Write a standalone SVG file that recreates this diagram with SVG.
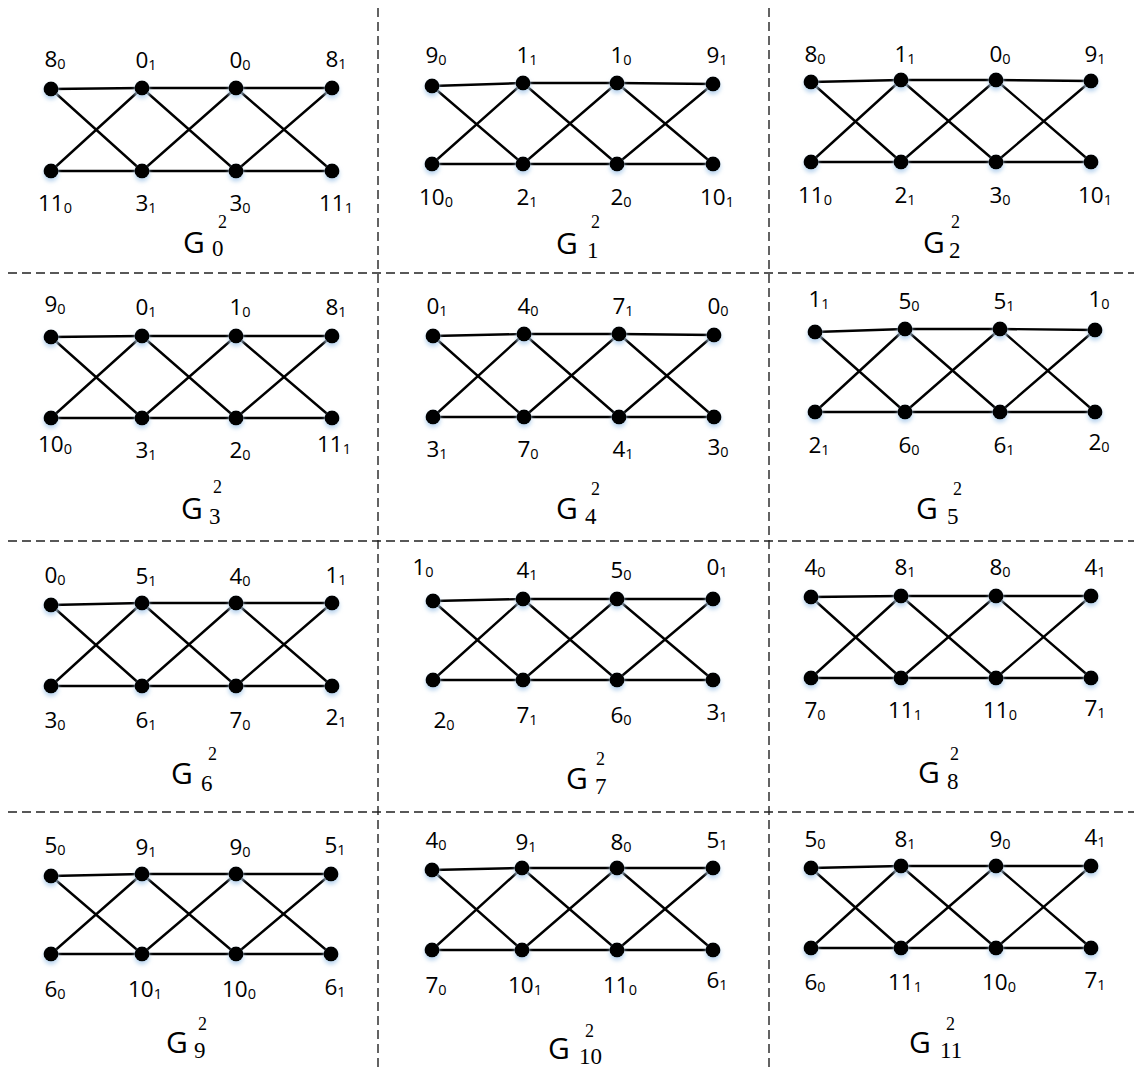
<svg xmlns="http://www.w3.org/2000/svg" width="1138" height="1071" viewBox="0 0 1138 1071">
<style>
.bg{fill:#fff}
.grid line{stroke:#222;stroke-width:1.4;stroke-dasharray:9 5}
.edges line{stroke:#000;stroke-width:2.4;stroke-linecap:round}
.node circle{fill:#000;filter:url(#glow)}
.node text{font-family:"Open Sans","DejaVu Sans",sans-serif;font-size:22.5px;text-anchor:middle;fill:#000}
.node text tspan{font-size:14.5px}
.G{font-family:"Open Sans","DejaVu Sans",sans-serif;font-size:30px;fill:#000}
.sup{font-family:"Liberation Serif",serif;font-size:18px;fill:#000}
.sub{font-family:"Liberation Serif",serif;font-size:23px;fill:#000}
</style>
<defs>
<filter id="glow" x="-60%" y="-60%" width="220%" height="260%">
<feFlood flood-color="#b9d4ee"/>
<feComposite in2="SourceAlpha" operator="in"/>
<feGaussianBlur stdDeviation="2.2"/>
<feOffset dy="3"/>
<feMerge><feMergeNode/><feMergeNode in="SourceGraphic"/></feMerge>
</filter>
</defs>
<rect class="bg" x="0" y="0" width="1138" height="1071"/>
<g class="grid" id="grid">
<line x1="378" y1="8" x2="378" y2="1071"/>
<line x1="769" y1="8" x2="769" y2="1071"/>
<line x1="8" y1="273" x2="1134" y2="273"/>
<line x1="8" y1="541" x2="1134" y2="541"/>
<line x1="8" y1="812" x2="1134" y2="812"/>
</g>
<g class="edges" id="connectors">
<!-- P0 -->
<line x1="51" y1="89" x2="142" y2="88"/><line x1="142" y1="88" x2="236" y2="88"/><line x1="236" y1="88" x2="332" y2="88"/>
<line x1="51" y1="171" x2="142" y2="171"/><line x1="142" y1="171" x2="236" y2="171"/><line x1="236" y1="171" x2="332" y2="171"/>
<line x1="51" y1="89" x2="142" y2="171"/><line x1="51" y1="171" x2="142" y2="88"/><line x1="142" y1="88" x2="236" y2="171"/><line x1="142" y1="171" x2="236" y2="88"/><line x1="236" y1="88" x2="332" y2="171"/><line x1="236" y1="171" x2="332" y2="88"/>
<!-- P1 -->
<line x1="432" y1="86" x2="523" y2="83"/><line x1="523" y1="83" x2="617" y2="83"/><line x1="617" y1="83" x2="713" y2="84"/>
<line x1="432" y1="164" x2="523" y2="164"/><line x1="523" y1="164" x2="617" y2="164"/><line x1="617" y1="164" x2="713" y2="164"/>
<line x1="432" y1="86" x2="523" y2="164"/><line x1="432" y1="164" x2="523" y2="83"/><line x1="523" y1="83" x2="617" y2="164"/><line x1="523" y1="164" x2="617" y2="83"/><line x1="617" y1="83" x2="713" y2="164"/><line x1="617" y1="164" x2="713" y2="84"/>
<!-- P2 -->
<line x1="811" y1="82" x2="901" y2="80"/><line x1="901" y1="80" x2="996" y2="80"/><line x1="996" y1="80" x2="1091" y2="81"/>
<line x1="811" y1="162" x2="901" y2="162"/><line x1="901" y1="162" x2="996" y2="162"/><line x1="996" y1="162" x2="1091" y2="162"/>
<line x1="811" y1="82" x2="901" y2="162"/><line x1="811" y1="162" x2="901" y2="80"/><line x1="901" y1="80" x2="996" y2="162"/><line x1="901" y1="162" x2="996" y2="80"/><line x1="996" y1="80" x2="1091" y2="162"/><line x1="996" y1="162" x2="1091" y2="81"/>
<!-- P3 -->
<line x1="51" y1="337" x2="142" y2="336"/><line x1="142" y1="336" x2="236" y2="336"/><line x1="236" y1="336" x2="332" y2="336"/>
<line x1="51" y1="418" x2="142" y2="418"/><line x1="142" y1="418" x2="236" y2="418"/><line x1="236" y1="418" x2="332" y2="418"/>
<line x1="51" y1="337" x2="142" y2="418"/><line x1="51" y1="418" x2="142" y2="336"/><line x1="142" y1="336" x2="236" y2="418"/><line x1="142" y1="418" x2="236" y2="336"/><line x1="236" y1="336" x2="332" y2="418"/><line x1="236" y1="418" x2="332" y2="336"/>
<!-- P4 -->
<line x1="433" y1="336" x2="524" y2="334"/><line x1="524" y1="334" x2="619" y2="334"/><line x1="619" y1="334" x2="714" y2="335"/>
<line x1="433" y1="417" x2="524" y2="417"/><line x1="524" y1="417" x2="619" y2="417"/><line x1="619" y1="417" x2="714" y2="417"/>
<line x1="433" y1="336" x2="524" y2="417"/><line x1="433" y1="417" x2="524" y2="334"/><line x1="524" y1="334" x2="619" y2="417"/><line x1="524" y1="417" x2="619" y2="334"/><line x1="619" y1="334" x2="714" y2="417"/><line x1="619" y1="417" x2="714" y2="335"/>
<!-- P5 -->
<line x1="815" y1="332" x2="905" y2="329"/><line x1="905" y1="329" x2="1000" y2="329"/><line x1="1000" y1="329" x2="1095" y2="330"/>
<line x1="815" y1="412" x2="905" y2="412"/><line x1="905" y1="412" x2="1000" y2="412"/><line x1="1000" y1="412" x2="1095" y2="412"/>
<line x1="815" y1="332" x2="905" y2="412"/><line x1="815" y1="412" x2="905" y2="329"/><line x1="905" y1="329" x2="1000" y2="412"/><line x1="905" y1="412" x2="1000" y2="329"/><line x1="1000" y1="329" x2="1095" y2="412"/><line x1="1000" y1="412" x2="1095" y2="330"/>
<!-- P6 -->
<line x1="51" y1="605" x2="142" y2="603"/><line x1="142" y1="603" x2="236" y2="603"/><line x1="236" y1="603" x2="332" y2="603"/>
<line x1="51" y1="686" x2="142" y2="686"/><line x1="142" y1="686" x2="236" y2="686"/><line x1="236" y1="686" x2="332" y2="686"/>
<line x1="51" y1="605" x2="142" y2="686"/><line x1="51" y1="686" x2="142" y2="603"/><line x1="142" y1="603" x2="236" y2="686"/><line x1="142" y1="686" x2="236" y2="603"/><line x1="236" y1="603" x2="332" y2="686"/><line x1="236" y1="686" x2="332" y2="603"/>
<!-- P7 -->
<line x1="433" y1="601" x2="523" y2="599"/><line x1="523" y1="599" x2="617" y2="599"/><line x1="617" y1="599" x2="713" y2="599"/>
<line x1="433" y1="680" x2="523" y2="680"/><line x1="523" y1="680" x2="617" y2="680"/><line x1="617" y1="680" x2="713" y2="680"/>
<line x1="433" y1="601" x2="523" y2="680"/><line x1="433" y1="680" x2="523" y2="599"/><line x1="523" y1="599" x2="617" y2="680"/><line x1="523" y1="680" x2="617" y2="599"/><line x1="617" y1="599" x2="713" y2="680"/><line x1="617" y1="680" x2="713" y2="599"/>
<!-- P8 -->
<line x1="811" y1="597" x2="901" y2="596"/><line x1="901" y1="596" x2="996" y2="596"/><line x1="996" y1="596" x2="1091" y2="596"/>
<line x1="811" y1="678" x2="901" y2="678"/><line x1="901" y1="678" x2="996" y2="678"/><line x1="996" y1="678" x2="1091" y2="678"/>
<line x1="811" y1="597" x2="901" y2="678"/><line x1="811" y1="678" x2="901" y2="596"/><line x1="901" y1="596" x2="996" y2="678"/><line x1="901" y1="678" x2="996" y2="596"/><line x1="996" y1="596" x2="1091" y2="678"/><line x1="996" y1="678" x2="1091" y2="596"/>
<!-- P9 -->
<line x1="51" y1="876" x2="142" y2="874"/><line x1="142" y1="874" x2="236" y2="874"/><line x1="236" y1="874" x2="331" y2="874"/>
<line x1="51" y1="954" x2="142" y2="954"/><line x1="142" y1="954" x2="236" y2="954"/><line x1="236" y1="954" x2="331" y2="954"/>
<line x1="51" y1="876" x2="142" y2="954"/><line x1="51" y1="954" x2="142" y2="874"/><line x1="142" y1="874" x2="236" y2="954"/><line x1="142" y1="954" x2="236" y2="874"/><line x1="236" y1="874" x2="331" y2="954"/><line x1="236" y1="954" x2="331" y2="874"/>
<!-- P10 -->
<line x1="432" y1="870" x2="522" y2="868"/><line x1="522" y1="868" x2="617" y2="868"/><line x1="617" y1="868" x2="713" y2="868"/>
<line x1="432" y1="950" x2="522" y2="950"/><line x1="522" y1="950" x2="617" y2="950"/><line x1="617" y1="950" x2="713" y2="950"/>
<line x1="432" y1="870" x2="522" y2="950"/><line x1="432" y1="950" x2="522" y2="868"/><line x1="522" y1="868" x2="617" y2="950"/><line x1="522" y1="950" x2="617" y2="868"/><line x1="617" y1="868" x2="713" y2="950"/><line x1="617" y1="950" x2="713" y2="868"/>
<!-- P11 -->
<line x1="811" y1="868" x2="901" y2="866"/><line x1="901" y1="866" x2="996" y2="866"/><line x1="996" y1="866" x2="1091" y2="866"/>
<line x1="811" y1="948" x2="901" y2="948"/><line x1="901" y1="948" x2="996" y2="948"/><line x1="996" y1="948" x2="1091" y2="948"/>
<line x1="811" y1="868" x2="901" y2="948"/><line x1="811" y1="948" x2="901" y2="866"/><line x1="901" y1="866" x2="996" y2="948"/><line x1="901" y1="948" x2="996" y2="866"/><line x1="996" y1="866" x2="1091" y2="948"/><line x1="996" y1="948" x2="1091" y2="866"/>
</g>
<g id="nodes">
<!-- P0 -->
<g class="node" id="p0-8_0"><circle cx="51" cy="89" r="7.5"/><text x="55" y="67">8<tspan dy="2">0</tspan></text></g>
<g class="node" id="p0-0_1"><circle cx="142" cy="88" r="7.5"/><text x="146" y="68">0<tspan dy="2">1</tspan></text></g>
<g class="node" id="p0-0_0"><circle cx="236" cy="88" r="7.5"/><text x="240" y="68">0<tspan dy="2">0</tspan></text></g>
<g class="node" id="p0-8_1"><circle cx="332" cy="88" r="7.5"/><text x="336" y="67">8<tspan dy="2">1</tspan></text></g>
<g class="node" id="p0-11_0"><circle cx="51" cy="171" r="7.5"/><text x="55" y="211">11<tspan dy="2">0</tspan></text></g>
<g class="node" id="p0-3_1"><circle cx="142" cy="171" r="7.5"/><text x="146" y="211">3<tspan dy="2">1</tspan></text></g>
<g class="node" id="p0-3_0"><circle cx="236" cy="171" r="7.5"/><text x="240" y="211">3<tspan dy="2">0</tspan></text></g>
<g class="node" id="p0-11_1"><circle cx="332" cy="171" r="7.5"/><text x="336" y="211">11<tspan dy="2">1</tspan></text></g>
<!-- P1 -->
<g class="node" id="p1-9_0"><circle cx="432" cy="86" r="7.5"/><text x="436" y="63">9<tspan dy="2">0</tspan></text></g>
<g class="node" id="p1-1_1"><circle cx="523" cy="83" r="7.5"/><text x="527" y="63">1<tspan dy="2">1</tspan></text></g>
<g class="node" id="p1-1_0"><circle cx="617" cy="83" r="7.5"/><text x="621" y="63">1<tspan dy="2">0</tspan></text></g>
<g class="node" id="p1-9_1"><circle cx="713" cy="84" r="7.5"/><text x="717" y="63">9<tspan dy="2">1</tspan></text></g>
<g class="node" id="p1-10_0"><circle cx="432" cy="164" r="7.5"/><text x="436" y="205">10<tspan dy="2">0</tspan></text></g>
<g class="node" id="p1-2_1"><circle cx="523" cy="164" r="7.5"/><text x="527" y="205">2<tspan dy="2">1</tspan></text></g>
<g class="node" id="p1-2_0"><circle cx="617" cy="164" r="7.5"/><text x="621" y="205">2<tspan dy="2">0</tspan></text></g>
<g class="node" id="p1-10_1"><circle cx="713" cy="164" r="7.5"/><text x="717" y="205">10<tspan dy="2">1</tspan></text></g>
<!-- P2 -->
<g class="node" id="p2-8_0"><circle cx="811" cy="82" r="7.5"/><text x="815" y="62">8<tspan dy="2">0</tspan></text></g>
<g class="node" id="p2-1_1"><circle cx="901" cy="80" r="7.5"/><text x="905" y="62">1<tspan dy="2">1</tspan></text></g>
<g class="node" id="p2-0_0"><circle cx="996" cy="80" r="7.5"/><text x="1000" y="62">0<tspan dy="2">0</tspan></text></g>
<g class="node" id="p2-9_1"><circle cx="1091" cy="81" r="7.5"/><text x="1095" y="62">9<tspan dy="2">1</tspan></text></g>
<g class="node" id="p2-11_0"><circle cx="811" cy="162" r="7.5"/><text x="815" y="203">11<tspan dy="2">0</tspan></text></g>
<g class="node" id="p2-2_1"><circle cx="901" cy="162" r="7.5"/><text x="905" y="203">2<tspan dy="2">1</tspan></text></g>
<g class="node" id="p2-3_0"><circle cx="996" cy="162" r="7.5"/><text x="1000" y="203">3<tspan dy="2">0</tspan></text></g>
<g class="node" id="p2-10_1"><circle cx="1091" cy="162" r="7.5"/><text x="1095" y="203">10<tspan dy="2">1</tspan></text></g>
<!-- P3 -->
<g class="node" id="p3-9_0"><circle cx="51" cy="337" r="7.5"/><text x="55" y="312">9<tspan dy="2">0</tspan></text></g>
<g class="node" id="p3-0_1"><circle cx="142" cy="336" r="7.5"/><text x="146" y="315">0<tspan dy="2">1</tspan></text></g>
<g class="node" id="p3-1_0"><circle cx="236" cy="336" r="7.5"/><text x="240" y="315">1<tspan dy="2">0</tspan></text></g>
<g class="node" id="p3-8_1"><circle cx="332" cy="336" r="7.5"/><text x="336" y="315">8<tspan dy="2">1</tspan></text></g>
<g class="node" id="p3-10_0"><circle cx="51" cy="418" r="7.5"/><text x="55" y="452">10<tspan dy="2">0</tspan></text></g>
<g class="node" id="p3-3_1"><circle cx="142" cy="418" r="7.5"/><text x="146" y="458">3<tspan dy="2">1</tspan></text></g>
<g class="node" id="p3-2_0"><circle cx="236" cy="418" r="7.5"/><text x="240" y="458">2<tspan dy="2">0</tspan></text></g>
<g class="node" id="p3-11_1"><circle cx="332" cy="418" r="7.5"/><text x="334" y="452">11<tspan dy="2">1</tspan></text></g>
<!-- P4 -->
<g class="node" id="p4-0_1"><circle cx="433" cy="336" r="7.5"/><text x="437" y="314">0<tspan dy="2">1</tspan></text></g>
<g class="node" id="p4-4_0"><circle cx="524" cy="334" r="7.5"/><text x="528" y="314">4<tspan dy="2">0</tspan></text></g>
<g class="node" id="p4-7_1"><circle cx="619" cy="334" r="7.5"/><text x="623" y="314">7<tspan dy="2">1</tspan></text></g>
<g class="node" id="p4-0_0"><circle cx="714" cy="335" r="7.5"/><text x="718" y="314">0<tspan dy="2">0</tspan></text></g>
<g class="node" id="p4-3_1"><circle cx="433" cy="417" r="7.5"/><text x="437" y="457">3<tspan dy="2">1</tspan></text></g>
<g class="node" id="p4-7_0"><circle cx="524" cy="417" r="7.5"/><text x="528" y="457">7<tspan dy="2">0</tspan></text></g>
<g class="node" id="p4-4_1"><circle cx="619" cy="417" r="7.5"/><text x="623" y="457">4<tspan dy="2">1</tspan></text></g>
<g class="node" id="p4-3_0"><circle cx="714" cy="417" r="7.5"/><text x="718" y="455">3<tspan dy="2">0</tspan></text></g>
<!-- P5 -->
<g class="node" id="p5-1_1"><circle cx="815" cy="332" r="7.5"/><text x="819" y="307">1<tspan dy="2">1</tspan></text></g>
<g class="node" id="p5-5_0"><circle cx="905" cy="329" r="7.5"/><text x="909" y="309">5<tspan dy="2">0</tspan></text></g>
<g class="node" id="p5-5_1"><circle cx="1000" cy="329" r="7.5"/><text x="1004" y="309">5<tspan dy="2">1</tspan></text></g>
<g class="node" id="p5-1_0"><circle cx="1095" cy="330" r="7.5"/><text x="1099" y="307">1<tspan dy="2">0</tspan></text></g>
<g class="node" id="p5-2_1"><circle cx="815" cy="412" r="7.5"/><text x="819" y="453">2<tspan dy="2">1</tspan></text></g>
<g class="node" id="p5-6_0"><circle cx="905" cy="412" r="7.5"/><text x="909" y="453">6<tspan dy="2">0</tspan></text></g>
<g class="node" id="p5-6_1"><circle cx="1000" cy="412" r="7.5"/><text x="1004" y="453">6<tspan dy="2">1</tspan></text></g>
<g class="node" id="p5-2_0"><circle cx="1095" cy="412" r="7.5"/><text x="1099" y="450">2<tspan dy="2">0</tspan></text></g>
<!-- P6 -->
<g class="node" id="p6-0_0"><circle cx="51" cy="605" r="7.5"/><text x="55" y="583">0<tspan dy="2">0</tspan></text></g>
<g class="node" id="p6-5_1"><circle cx="142" cy="603" r="7.5"/><text x="146" y="584">5<tspan dy="2">1</tspan></text></g>
<g class="node" id="p6-4_0"><circle cx="236" cy="603" r="7.5"/><text x="240" y="584">4<tspan dy="2">0</tspan></text></g>
<g class="node" id="p6-1_1"><circle cx="332" cy="603" r="7.5"/><text x="336" y="583">1<tspan dy="2">1</tspan></text></g>
<g class="node" id="p6-3_0"><circle cx="51" cy="686" r="7.5"/><text x="55" y="728">3<tspan dy="2">0</tspan></text></g>
<g class="node" id="p6-6_1"><circle cx="142" cy="686" r="7.5"/><text x="146" y="728">6<tspan dy="2">1</tspan></text></g>
<g class="node" id="p6-7_0"><circle cx="236" cy="686" r="7.5"/><text x="240" y="728">7<tspan dy="2">0</tspan></text></g>
<g class="node" id="p6-2_1"><circle cx="332" cy="686" r="7.5"/><text x="336" y="725">2<tspan dy="2">1</tspan></text></g>
<!-- P7 -->
<g class="node" id="p7-1_0"><circle cx="433" cy="601" r="7.5"/><text x="423" y="575">1<tspan dy="2">0</tspan></text></g>
<g class="node" id="p7-4_1"><circle cx="523" cy="599" r="7.5"/><text x="527" y="578">4<tspan dy="2">1</tspan></text></g>
<g class="node" id="p7-5_0"><circle cx="617" cy="599" r="7.5"/><text x="621" y="578">5<tspan dy="2">0</tspan></text></g>
<g class="node" id="p7-0_1"><circle cx="713" cy="599" r="7.5"/><text x="717" y="575">0<tspan dy="2">1</tspan></text></g>
<g class="node" id="p7-2_0"><circle cx="433" cy="680" r="7.5"/><text x="444" y="728">2<tspan dy="2">0</tspan></text></g>
<g class="node" id="p7-7_1"><circle cx="523" cy="680" r="7.5"/><text x="527" y="723">7<tspan dy="2">1</tspan></text></g>
<g class="node" id="p7-6_0"><circle cx="617" cy="680" r="7.5"/><text x="621" y="723">6<tspan dy="2">0</tspan></text></g>
<g class="node" id="p7-3_1"><circle cx="713" cy="680" r="7.5"/><text x="717" y="720">3<tspan dy="2">1</tspan></text></g>
<!-- P8 -->
<g class="node" id="p8-4_0"><circle cx="811" cy="597" r="7.5"/><text x="815" y="575">4<tspan dy="2">0</tspan></text></g>
<g class="node" id="p8-8_1"><circle cx="901" cy="596" r="7.5"/><text x="905" y="575">8<tspan dy="2">1</tspan></text></g>
<g class="node" id="p8-8_0"><circle cx="996" cy="596" r="7.5"/><text x="1000" y="575">8<tspan dy="2">0</tspan></text></g>
<g class="node" id="p8-4_1"><circle cx="1091" cy="596" r="7.5"/><text x="1095" y="575">4<tspan dy="2">1</tspan></text></g>
<g class="node" id="p8-7_0"><circle cx="811" cy="678" r="7.5"/><text x="815" y="718">7<tspan dy="2">0</tspan></text></g>
<g class="node" id="p8-11_1"><circle cx="901" cy="678" r="7.5"/><text x="905" y="718">11<tspan dy="2">1</tspan></text></g>
<g class="node" id="p8-11_0"><circle cx="996" cy="678" r="7.5"/><text x="1000" y="718">11<tspan dy="2">0</tspan></text></g>
<g class="node" id="p8-7_1"><circle cx="1091" cy="678" r="7.5"/><text x="1095" y="716">7<tspan dy="2">1</tspan></text></g>
<!-- P9 -->
<g class="node" id="p9-5_0"><circle cx="51" cy="876" r="7.5"/><text x="55" y="853">5<tspan dy="2">0</tspan></text></g>
<g class="node" id="p9-9_1"><circle cx="142" cy="874" r="7.5"/><text x="146" y="855">9<tspan dy="2">1</tspan></text></g>
<g class="node" id="p9-9_0"><circle cx="236" cy="874" r="7.5"/><text x="240" y="855">9<tspan dy="2">0</tspan></text></g>
<g class="node" id="p9-5_1"><circle cx="331" cy="874" r="7.5"/><text x="335" y="853">5<tspan dy="2">1</tspan></text></g>
<g class="node" id="p9-6_0"><circle cx="51" cy="954" r="7.5"/><text x="55" y="997">6<tspan dy="2">0</tspan></text></g>
<g class="node" id="p9-10_1"><circle cx="142" cy="954" r="7.5"/><text x="145" y="997">10<tspan dy="2">1</tspan></text></g>
<g class="node" id="p9-10_0"><circle cx="236" cy="954" r="7.5"/><text x="239" y="997">10<tspan dy="2">0</tspan></text></g>
<g class="node" id="p9-6_1"><circle cx="331" cy="954" r="7.5"/><text x="335" y="995">6<tspan dy="2">1</tspan></text></g>
<!-- P10 -->
<g class="node" id="p10-4_0"><circle cx="432" cy="870" r="7.5"/><text x="436" y="848">4<tspan dy="2">0</tspan></text></g>
<g class="node" id="p10-9_1"><circle cx="522" cy="868" r="7.5"/><text x="526" y="850">9<tspan dy="2">1</tspan></text></g>
<g class="node" id="p10-8_0"><circle cx="617" cy="868" r="7.5"/><text x="621" y="850">8<tspan dy="2">0</tspan></text></g>
<g class="node" id="p10-5_1"><circle cx="713" cy="868" r="7.5"/><text x="717" y="848">5<tspan dy="2">1</tspan></text></g>
<g class="node" id="p10-7_0"><circle cx="432" cy="950" r="7.5"/><text x="436" y="993">7<tspan dy="2">0</tspan></text></g>
<g class="node" id="p10-10_1"><circle cx="522" cy="950" r="7.5"/><text x="525" y="993">10<tspan dy="2">1</tspan></text></g>
<g class="node" id="p10-11_0"><circle cx="617" cy="950" r="7.5"/><text x="620" y="993">11<tspan dy="2">0</tspan></text></g>
<g class="node" id="p10-6_1"><circle cx="713" cy="950" r="7.5"/><text x="717" y="988">6<tspan dy="2">1</tspan></text></g>
<!-- P11 -->
<g class="node" id="p11-5_0"><circle cx="811" cy="868" r="7.5"/><text x="815" y="847">5<tspan dy="2">0</tspan></text></g>
<g class="node" id="p11-8_1"><circle cx="901" cy="866" r="7.5"/><text x="905" y="847">8<tspan dy="2">1</tspan></text></g>
<g class="node" id="p11-9_0"><circle cx="996" cy="866" r="7.5"/><text x="1000" y="847">9<tspan dy="2">0</tspan></text></g>
<g class="node" id="p11-4_1"><circle cx="1091" cy="866" r="7.5"/><text x="1095" y="845">4<tspan dy="2">1</tspan></text></g>
<g class="node" id="p11-6_0"><circle cx="811" cy="948" r="7.5"/><text x="815" y="990">6<tspan dy="2">0</tspan></text></g>
<g class="node" id="p11-11_1"><circle cx="901" cy="948" r="7.5"/><text x="905" y="990">11<tspan dy="2">1</tspan></text></g>
<g class="node" id="p11-10_0"><circle cx="996" cy="948" r="7.5"/><text x="999" y="990">10<tspan dy="2">0</tspan></text></g>
<g class="node" id="p11-7_1"><circle cx="1091" cy="948" r="7.5"/><text x="1095" y="988">7<tspan dy="2">1</tspan></text></g>
</g>
<g id="titles">
<g id="title-0"><text class="G" x="183" y="253">G</text><text class="sup" x="218" y="228">2</text><text class="sub" x="212" y="256">0</text></g>
<g id="title-1"><text class="G" x="556" y="254">G</text><text class="sup" x="591" y="228">2</text><text class="sub" x="587" y="258">1</text></g>
<g id="title-2"><text class="G" x="923" y="253">G</text><text class="sup" x="951" y="228">2</text><text class="sub" x="949" y="258">2</text></g>
<g id="title-3"><text class="G" x="181" y="519">G</text><text class="sup" x="213" y="493">2</text><text class="sub" x="209" y="524">3</text></g>
<g id="title-4"><text class="G" x="556" y="519">G</text><text class="sup" x="591" y="495">2</text><text class="sub" x="585" y="524">4</text></g>
<g id="title-5"><text class="G" x="916" y="519">G</text><text class="sup" x="953" y="495">2</text><text class="sub" x="947" y="524">5</text></g>
<g id="title-6"><text class="G" x="171" y="784">G</text><text class="sup" x="208" y="760">2</text><text class="sub" x="201" y="791">6</text></g>
<g id="title-7"><text class="G" x="566" y="789">G</text><text class="sup" x="596" y="765">2</text><text class="sub" x="595" y="794">7</text></g>
<g id="title-8"><text class="G" x="918" y="783">G</text><text class="sup" x="950" y="760">2</text><text class="sub" x="947" y="789">8</text></g>
<g id="title-9"><text class="G" x="166" y="1053">G</text><text class="sup" x="198" y="1030">2</text><text class="sub" x="194" y="1058">9</text></g>
<g id="title-10"><text class="G" x="548" y="1059">G</text><text class="sup" x="585" y="1037">2</text><text class="sub" x="579" y="1064">10</text></g>
<g id="title-11"><text class="G" x="909" y="1053">G</text><text class="sup" x="946" y="1030">2</text><text class="sub" x="940" y="1058">11</text></g>
</g>
</svg>
